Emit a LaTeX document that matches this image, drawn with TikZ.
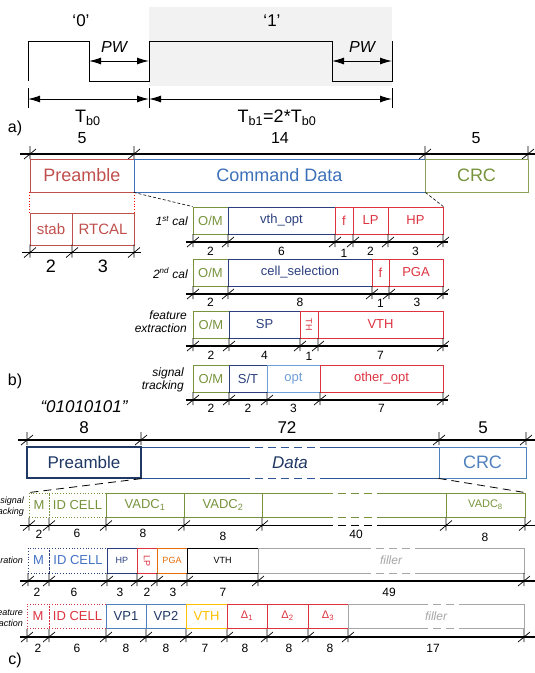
\documentclass[tikz,border=0pt]{standalone}
\usepackage{fontspec}
\setmainfont{Liberation Sans}
\usepackage{xcolor}
\usepackage{tikz}
\usetikzlibrary{arrows.meta}

\definecolor{cred}{HTML}{C0504D}
\definecolor{bred}{HTML}{DC3340}
\definecolor{cblue}{HTML}{3C70B8}
\definecolor{lblue}{HTML}{4F81BD}
\definecolor{cgreen}{HTML}{77933C}
\definecolor{cnavy}{HTML}{2B3F7E}
\definecolor{dnavy}{HTML}{1F3864}
\definecolor{dblue}{HTML}{2F5597}
\definecolor{mblue}{HTML}{4472C4}
\definecolor{optblue}{HTML}{6F9FD8}
\definecolor{corange}{HTML}{E46C0A}
\definecolor{cgold}{HTML}{FFC000}
\definecolor{cgray}{HTML}{A6A6A6}

\tikzset{dimtick/.pic={\draw[line width=0.7pt] (0,-8) -- (0,5) (-6,5) -- (6,-5);}}

\begin{document}
\begin{tikzpicture}[x=1pt, y=-1pt]
\tikzstyle{fld}     = [rectangle, draw, inner sep=0pt, line width=0.8pt, minimum height=27pt]
\tikzstyle{fldc}    = [fld, minimum height=24pt]
\tikzstyle{dimln}   = [line width=1.1pt, black]
\tikzstyle{arr}     = [line width=1pt, {Latex[length=12pt,width=7pt]}-{Latex[length=12pt,width=7pt]}]
\tikzstyle{zoomln}  = [dash pattern=on 3pt off 2pt, line width=0.6pt]
\tikzstyle{zoomlnc} = [dash pattern=on 8pt off 5pt, line width=0.8pt]
\tikzstyle{cut}     = [dash pattern=on 8pt off 5pt]
\tikzstyle{gapwhite}= [white, line width=2.5pt]
\tikzstyle{t18}     = [font=\fontsize{18}{20}\selectfont]
\tikzstyle{t17}     = [font=\fontsize{17}{19}\selectfont]
\tikzstyle{t16}     = [font=\fontsize{16}{18}\selectfont]
\tikzstyle{t15}     = [font=\fontsize{15}{17}\selectfont]
\tikzstyle{t13}     = [font=\fontsize{13}{15}\selectfont]
\tikzstyle{t12}     = [font=\fontsize{12}{14}\selectfont]
\tikzstyle{t11}     = [font=\fontsize{11}{13}\selectfont]
\tikzstyle{t9}      = [font=\fontsize{9}{10}\selectfont]
\tikzstyle{rowlab}  = [font=\fontsize{12}{13}\selectfont\itshape, align=right, anchor=east, inner sep=0pt]
\tikzstyle{rowlabc} = [font=\fontsize{9}{11}\selectfont\itshape, align=right, anchor=east, inner sep=0pt]

\useasboundingbox (0,0) rectangle (535,673);

% a) bit encoding
\fill[gray!10] (149,7) rectangle (392,86);
\draw[line width=1pt] (28,81) -- (28,41) -- (89,41) -- (89,81) -- (149,81) -- (149,41) -- (332,41) -- (332,81) -- (392,81) -- (392,41);
\coordinate (pw0a) at (89,61);  \coordinate (pw0b) at (149,61);
\coordinate (pw1a) at (332,61); \coordinate (pw1b) at (392,61);
\draw[arr] (pw0a) -- (pw0b);
\draw[arr] (pw1a) -- (pw1b);
\draw[line width=1pt] (28,88) -- (28,108) (149,88) -- (149,108) (392,88) -- (392,108);
\coordinate (tba) at (28,99); \coordinate (tbb) at (149,99); \coordinate (tbc) at (392,99);
\draw[arr] (tba) -- (tbb);
\draw[arr] (tbb) -- (tbc);
\node[t17] (bit0) at (81,21) {‘0’};
\node[t17] (bit1) at (272,21) {‘1’};
\node[t16, font=\fontsize{16}{18}\selectfont\itshape] (pw0) at (114,47) {PW};
\node[t16, font=\fontsize{16}{18}\selectfont\itshape] (pw1) at (362,47) {PW};
\node[t18] (tb0) at (88,118) {T\textsubscript{b0}};
\node[t18] (tb1) at (277,118) {T\textsubscript{b1}=2*T\textsubscript{b0}};
\node[t16] (la) at (15,128) {a)};

% b) command frame
\node[t16] (nb1) at (82,138) {5};
\node[t16] (nb2) at (280,138) {14};
\node[t16] (nb3) at (476,138) {5};
\draw[dimln] (20,154) -- (535,154);
\foreach \x in {30,134,425,528} \pic at (\x,154) {dimtick};
\node[fld, draw=cred, text=cred, minimum width=104pt, minimum height=33pt, t18] (preb) at (82,175.5) {Preamble};
\node[fld, draw=cblue, text=cblue, minimum width=291pt, minimum height=33pt, t18] (cmd) at (279.5,175.5) {Command Data};
\node[fld, draw=cgreen!85, text=cgreen, minimum width=103pt, minimum height=33pt, t18] (crcb) at (476.5,175.5) {CRC};
\node[fld, draw=cred, text=cred, minimum width=42pt, minimum height=32pt, t15] (stab) at (51,229) {stab};
\node[fld, draw=cred, text=cred, minimum width=62pt, minimum height=32pt, t15] (rtcal) at (103,229) {RTCAL};
\draw[red, dotted, line width=0.8pt] (preb.south west) -- (stab.north west);
\draw[red, dotted, line width=0.8pt] (preb.south east) -- (rtcal.north east);
\draw[dimln] (22,252.5) -- (141,252.5);
\foreach \x in {30,72,134} \pic at (\x,252.5) {dimtick};
\node[t18] (ns1) at (51,266) {2};
\node[t18] (ns2) at (103,266) {3};

\node[rowlab] (r1) at (188,221) {1\textsuperscript{st} cal};
\node[fld, draw=cgreen, text=cgreen, minimum width=35pt, t13] (om1) at (210.5,220.5) {O/M};
\node[fld, draw=cnavy, text=cnavy, minimum width=107pt, t13] (vth1) at (281.5,220.5) {vth\_opt};
\node[fld, draw=bred, text=bred, minimum width=18pt, t13] (f1) at (344,220.5) {f};
\node[fld, draw=bred, text=bred, minimum width=35pt, t13] (lp1) at (370.5,220.5) {LP};
\node[fld, draw=bred, text=bred, minimum width=55pt, t13] (hp1) at (415.5,220.5) {HP};
\draw[zoomln] (cmd.south west) -- (om1.north west);
\draw[zoomln] (cmd.south east) -- (hp1.north east);
\draw[dimln] (186,242) -- (448,242);
\foreach \x in {193,228,335,353,388,443} \pic at (\x,242) {dimtick};
\node[t12] (n11) at (210.5,251) {2};
\node[t12] (n12) at (281.5,251) {6};
\node[t12] (n13) at (344,253) {1};
\node[t12] (n14) at (370.5,251) {2};
\node[t12] (n15) at (415.5,251) {3};

\node[rowlab] (r2) at (188,273) {2\textsuperscript{nd} cal};
\node[fld, draw=cgreen, text=cgreen, minimum width=35pt, t13] (om2) at (210.5,272.5) {O/M};
\node[fld, draw=cnavy, text=cnavy, minimum width=144pt, t13] (cell2) at (300,272.5) {cell\_selection};
\node[fld, draw=bred, text=bred, minimum width=17pt, t13] (f2) at (380.5,272.5) {f};
\node[fld, draw=bred, text=bred, minimum width=54pt, t13] (pga2) at (416,272.5) {PGA};
\draw[dimln] (186,294) -- (448,294);
\foreach \x in {193,228,372,389,443} \pic at (\x,294) {dimtick};
\node[t12] (n21) at (210.5,302) {2};
\node[t12] (n22) at (300,302) {8};
\node[t12] (n23) at (380.5,303) {1};
\node[t12] (n24) at (417,302) {3};

\node[rowlab] (r3) at (187,321.5) {feature\\extraction};
\node[fld, draw=cgreen, text=cgreen, minimum width=36pt, t13] (om3) at (211,324.5) {O/M};
\node[fld, draw=cnavy, text=cnavy, minimum width=71pt, t13] (sp3) at (264.5,324.5) {SP};
\node[fld, draw=bred, minimum width=18pt] (th3) at (309,324.5) {};
\node[t9, text=bred, rotate=-90] (th3t) at (th3.center) {TH};
\node[fld, draw=bred, text=bred, minimum width=125pt, t13] (vth3) at (380.5,324.5) {VTH};
\draw[dimln] (186,346) -- (448,346);
\foreach \x in {193,229,300,318,443} \pic at (\x,346) {dimtick};
\node[t12] (n31) at (211,355) {2};
\node[t12] (n32) at (264.5,355) {4};
\node[t12] (n33) at (309,356) {1};
\node[t12] (n34) at (380.5,355) {7};

\node[rowlab] (r4) at (184,380) {signal\\tracking};
\node[fld, draw=cgreen, text=cgreen, minimum width=36pt, t13] (om4) at (211,378.5) {O/M};
\node[fld, draw=cnavy, text=cnavy, minimum width=38pt, t13] (st4) at (248,378.5) {S/T};
\node[fld, draw=optblue, text=optblue, minimum width=53pt, t13] (opt4) at (293.5,378.5) {opt};
\node[fld, draw=bred, text=bred, minimum width=123pt, t13] (oth4) at (381.5,378.5) {other\_opt};
\draw[dimln] (186,400) -- (448,400);
\foreach \x in {193,229,267,320,443} \pic at (\x,400) {dimtick};
\node[t12] (n41) at (211,408) {2};
\node[t12] (n42) at (248,408) {2};
\node[t12] (n43) at (293.5,408) {3};
\node[t12] (n44) at (381.5,408) {7};
\node[t16] (lb) at (15,381) {b)};

% c) data frame
\node[t17, font=\fontsize{17}{19}\selectfont\itshape] (seq) at (84,407) {“01010101”};
\node[t17] (nc1) at (84,428) {8};
\node[t17] (nc2) at (287,428) {72};
\node[t17] (nc3) at (483,428) {5};
\draw[dimln] (18,440) -- (535,440);
\foreach \x in {27,141,439,526} \pic at (\x,440) {dimtick};
\node[fld, draw=dblue, minimum width=298pt, minimum height=31pt, text=dnavy, font=\fontsize{17}{19}\selectfont\itshape] (datac) at (290,462.5) {Data};
\draw[gapwhite] (242,447) -- (325,447) (242,478) -- (325,478);
\draw[dblue, line width=0.8pt, cut] (242,447) -- (325,447) (242,478) -- (325,478);
\node[fld, draw=dnavy, text=dnavy, line width=1.2pt, minimum width=114pt, minimum height=31pt, t17] (prec) at (84,462.5) {Preamble};
\node[fld, draw=lblue, text=lblue, minimum width=87pt, minimum height=31pt, t18] (crcc) at (482.5,462.5) {CRC};

\node[rowlabc] (r5) at (24,507) {signal\\tracking};
\node[fldc, draw=cgreen, text=cgreen, dotted, minimum width=20pt, t13] (m1) at (39,505) {M};
\node[fldc, draw=cgreen, text=cgreen, dotted, minimum width=57pt, t13] (id1) at (77.5,505) {ID CELL};
\node[fldc, draw=cgreen, text=cgreen, minimum width=78pt, t13] (va1) at (145,505) {VADC\textsubscript{1}};
\node[fldc, draw=cgreen, text=cgreen, minimum width=78pt, t13] (va2) at (223,505) {VADC\textsubscript{2}};
\node[fldc, draw=cgreen, minimum width=184pt] (vgap) at (354,505) {};
\draw[gapwhite] (325,493) -- (385,493) (325,517) -- (385,517);
\draw[cgreen, line width=0.8pt, cut] (325,493) -- (385,493) (325,517) -- (385,517);
\node[fldc, draw=cgreen, text=cgreen, minimum width=79pt, t11] (va8) at (485.5,505) {VADC\textsubscript{8}};
\draw[zoomlnc] (prec.south east) -- (m1.north west);
\draw[zoomlnc] (crcc.south west) -- (va8.north east);
\draw[dimln] (20,525.5) -- (535,525.5);
\draw[gapwhite, line width=3pt] (325,525.5) -- (385,525.5);
\draw[dimln, cut] (325,525.5) -- (385,525.5);
\foreach \x in {29,49,106,184,262,446,525} \pic at (\x,525.5) {dimtick};
\node[t12] (n51) at (39,534) {2};
\node[t12] (n52) at (77,533) {6};
\node[t12] (n53) at (143,533) {8};
\node[t12] (n54) at (223,536) {8};
\node[t12] (n55) at (356,534) {40};
\node[t12] (n56) at (485,537) {8};

\node[rowlabc] (r6) at (23,560) {calibration};
\node[fldc, draw=cnavy, text=mblue, dotted, minimum width=21pt, minimum height=25pt, t13] (m2) at (38.5,560.5) {M};
\node[fldc, draw=cnavy, text=mblue, dotted, minimum width=58pt, minimum height=25pt, t13] (id2) at (78,560.5) {ID CELL};
\node[fldc, draw=cnavy, text=cnavy, minimum width=30pt, minimum height=25pt, t9] (hp2) at (122,560.5) {HP};
\node[fldc, draw=bred, minimum width=20pt, minimum height=25pt] (lp2) at (147,560.5) {};
\node[t9, text=bred, rotate=-90] (lp2t) at (lp2.center) {LP};
\node[fldc, draw=corange, text=corange, minimum width=30pt, minimum height=25pt, t9] (pga2c) at (172,560.5) {PGA};
\node[fldc, draw=black, text=black, minimum width=71pt, minimum height=25pt, t9] (vth2c) at (222.5,560.5) {VTH};
\node[fldc, draw=cgray, text=cgray, minimum width=266pt, minimum height=25pt, font=\fontsize{12}{14}\selectfont\itshape] (fill2) at (391,560.5) {filler};
\draw[gapwhite] (363,548) -- (417,548) (363,573) -- (417,573);
\draw[cgray, line width=0.8pt, cut] (363,548) -- (417,548) (363,573) -- (417,573);
\draw[dimln] (20,581) -- (535,581);
\foreach \x in {28,49,107,137,157,187,258,524} \pic at (\x,581) {dimtick};
\node[t12] (n61) at (37,592) {2};
\node[t12] (n62) at (74,592) {6};
\node[t12] (n63) at (120,592) {3};
\node[t12] (n64) at (147,592) {2};
\node[t12] (n65) at (173,592) {3};
\node[t12] (n66) at (223,592) {7};
\node[t12] (n67) at (389,592) {49};

\node[rowlabc] (r7) at (23,617.5) {feature\\extraction};
\node[fldc, draw=bred, text=bred, dotted, minimum width=22pt, t13] (m3) at (38,616) {M};
\node[fldc, draw=bred, text=bred, dotted, minimum width=57pt, t13] (id3) at (77.5,616) {ID CELL};
\node[fldc, draw=lblue, text=dnavy, minimum width=40pt, t13] (vp1) at (126,616) {VP1};
\node[fldc, draw=lblue, text=dnavy, minimum width=40pt, t13] (vp2) at (166,616) {VP2};
\node[fldc, draw=cgold, text=cgold, minimum width=41pt, t13] (vth3c) at (206.5,616) {VTH};
\node[fldc, draw=bred, text=bred, minimum width=40pt, t11] (d1) at (247,616) {Δ\textsubscript{1}};
\node[fldc, draw=bred, text=bred, minimum width=41pt, t11] (d2) at (287.5,616) {Δ\textsubscript{2}};
\node[fldc, draw=bred, text=bred, minimum width=40pt, t11] (d3) at (328,616) {Δ\textsubscript{3}};
\node[fldc, draw=cgray, text=cgray, minimum width=176pt, font=\fontsize{12}{14}\selectfont\itshape] (fill3) at (436,616) {filler};
\draw[gapwhite] (420,604) -- (465,604) (420,628) -- (465,628);
\draw[cgray, line width=0.8pt, cut] (420,604) -- (465,604) (420,628) -- (465,628);
\draw[dimln] (20,637) -- (535,637);
\foreach \x in {27,49,106,146,186,227,267,308,348,524} \pic at (\x,637) {dimtick};
\node[t12] (n71) at (38,648) {2};
\node[t12] (n72) at (77,648) {6};
\node[t12] (n73) at (126,648) {8};
\node[t12] (n74) at (166,648) {8};
\node[t12] (n75) at (205,648) {7};
\node[t12] (n76) at (245,648) {8};
\node[t12] (n77) at (289,648) {8};
\node[t12] (n78) at (330,648) {8};
\node[t12] (n79) at (433,648) {17};
\node[t16] (lc) at (15,660) {c)};
\end{tikzpicture}
\end{document}
